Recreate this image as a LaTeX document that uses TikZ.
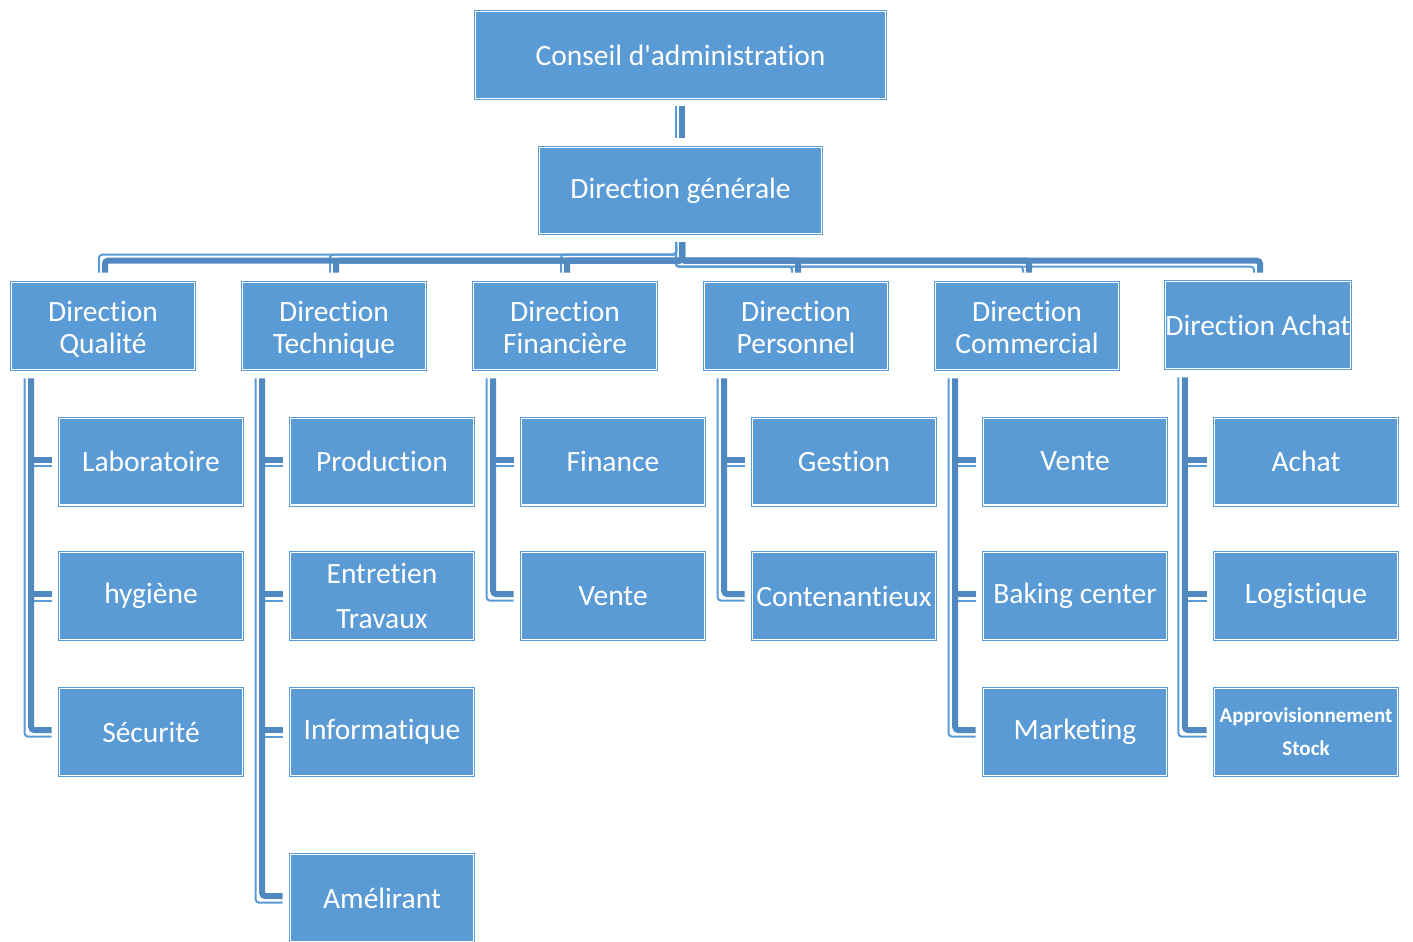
\documentclass[tikz,border=0pt]{standalone}
\usepackage{fontspec}
\setmainfont{Carlito}[Ligatures={TeXOff,CommonOff,ContextualOff}]
\usetikzlibrary{calc}
\definecolor{boxblue}{RGB}{91,155,213}
\definecolor{thickblue}{RGB}{80,137,192}
\definecolor{thinblue}{RGB}{91,155,213}
\newcommand\topstrut{\rule{0pt}{29pt}}
\newcommand\botstrut{\rule[-6.5pt]{0pt}{0pt}}
\begin{document}
\begin{tikzpicture}[x=1pt,y=-1pt,
  orgbox/.style={draw=boxblue,double=white,line width=1pt,double distance=1.4pt,fill=boxblue,
    text=white,inner sep=0pt,outer sep=0pt,align=center,minimum width=182.6pt,minimum height=86.6pt,
    font=\fontsize{29.5}{32}\selectfont},
  thk/.style={draw=thickblue,line width=6pt,rounded corners=3pt},
  thn/.style={draw=thinblue,line width=2pt,rounded corners=3pt}]
\useasboundingbox (0,0) rectangle (1413,942);
\clip (0,0) rectangle (1413,942);
% top
\node[orgbox,minimum width=409.6pt] (ca) at (680.5,55) {Conseil d'administration};
\node[orgbox,minimum width=281.6pt,minimum height=85.6pt] (dg) at (680.5,190.5) {Direction générale};
% directions
\node[orgbox] (dq) at (103,326) {\topstrut Direction\\\botstrut Qualité};
\node[orgbox] (dt) at (334,326) {\topstrut Direction\\\botstrut Technique};
\node[orgbox] (df) at (565,326) {\topstrut Direction\\\botstrut Financière};
\node[orgbox] (dp) at (796,326) {\topstrut Direction\\\botstrut Personnel};
\node[orgbox] (dc) at (1027,326) {\topstrut Direction\\\botstrut Commercial};
\node[orgbox] (da) at (1258,325) {Direction Achat};
% children
\tikzset{child/.style={orgbox,font=\fontsize{29.5}{45}\selectfont}}
\node[child] (q1) at (151,461.5) {Laboratoire};
\node[child] (q2) at (151,596) {hygiène};
\node[child] (q3) at (151,732) {Sécurité};
\node[child] (t1) at (382,461.5) {Production};
\node[child] (t2) at (382,596) {Entretien\\Travaux};
\node[child] (t3) at (382,732) {Informatique};
\node[child] (t4) at (382,898) {Amélirant};
\node[child] (f1) at (613,461.5) {Finance};
\node[child] (f2) at (613,596) {Vente};
\node[child] (p1) at (844,461.5) {Gestion};
\node[child] (p2) at (844,596) {Contenantieux};
\node[child] (c1) at (1075,461.5) {Vente};
\node[child] (c2) at (1075,596) {Baking center};
\node[child] (c3) at (1075,732) {Marketing};
\node[child] (a1) at (1306,461.5) {Achat};
\node[child] (a2) at (1306,596) {Logistique};
\node[child,font=\bfseries\fontsize{21}{33}\selectfont] (a3) at (1306,732) {Approvisionnement\\Stock};
% Conseil -> DG
\draw[thn] ($(ca.south)+(-4.5,8)$) -- ($(dg.north)+(-4.5,-10)$);
\draw[thk] ($(ca.south)+(1.5,8)$) -- ($(dg.north)+(1.5,-10)$);
% DG -> directions
\foreach \d in {dq,dt,df}{
  \draw[thn] ($(dg.south)+(-4.5,9)$) |- ($(\d.north)+(-4,-28)$) -- ($(\d.north)+(-4,-10)$);
}
\foreach \d in {dp,dc}{
  \draw[thn] ($(dg.south)+(-4.5,9)$) |- ($(\d.north)+(-4,-16)$) -- ($(\d.north)+(-4,-10)$);
}
\draw[thn] ($(dg.south)+(-4.5,9)$) |- ($(da.north)+(-4,-15)$) -- ($(da.north)+(-4,-9)$);
\foreach \d in {dq,dt,df,dp,dc}{
  \draw[thk] ($(dg.south)+(1.5,9)$) |- ($(\d.north)+(2,-22)$) -- ($(\d.north)+(2,-10)$);
}
\draw[thk] ($(dg.south)+(1.5,9)$) |- ($(da.north)+(2,-21)$) -- ($(da.north)+(2,-9)$);
% children connectors
\foreach \p/\last/\others in {dq/q3/{q1,q2},dt/t4/{t1,t2,t3},df/f2/{f1},dp/p2/{p1},dc/c3/{c1,c2},da/a3/{a1,a2}}{
  \draw[thn] ($(\p.south west)+(13,9)$) |- ($(\last.west)+(-8,4.5)$);
  \foreach \c in \others {
    \draw[thn] ($(\c.west)+(-28.5,4.5)$) -- ($(\c.west)+(-8,4.5)$);
  }
  \draw[thk] ($(\p.south west)+(19.5,9)$) |- ($(\last.west)+(-8,-2)$);
  \foreach \c in \others {
    \draw[thk] ($(\c.west)+(-28.5,-2)$) -- ($(\c.west)+(-8,-2)$);
  }
}
\end{tikzpicture}
\end{document}
